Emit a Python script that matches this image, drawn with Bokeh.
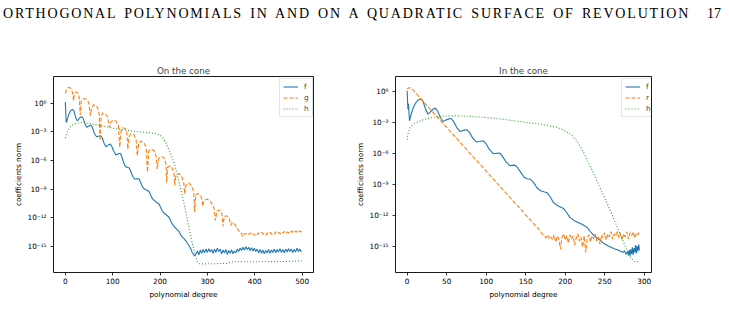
import numpy as np
from bokeh.plotting import figure
from bokeh.layouts import row, column
from bokeh.models import Range1d, FixedTicker, CustomJSTickFormatter, Div
from bokeh.embed import file_html
from bokeh.resources import INLINE

# ---------------- "On the cone": coefficient norms (log10) ----------------
f_on_deg = [0, 1, 2, 3, 5, 8, 11, 15, 18, 21, 24, 26.5, 29, 32, 35, 38, 42, 45.5, 49, 54,
            57, 61, 66, 70, 75, 78, 82, 86, 90, 95, 98, 102, 107, 111, 116, 119, 123, 127,
            131, 135, 138, 142, 146, 151, 156, 159, 163, 167, 172, 177, 180, 184, 188, 193,
            198, 201, 205, 209, 214, 219, 222, 226, 230, 235, 240, 243, 247, 251, 256, 261,
            265, 268, 271, 273] + list(range(276, 499, 3))
f_on_lg = [0.15, -1.0, -2.0, -1.9, -1.55, -1.1, -0.8, -0.62, -0.75, -1.3, -1.75, -1.8, -1.6,
           -1.45, -1.4, -1.6, -2.2, -2.5, -2.4, -2.27, -2.5, -3.1, -3.5, -3.45, -3.39, -3.6,
           -4.2, -4.55, -4.4, -4.27, -4.5, -5.0, -5.42, -5.32, -5.24, -5.55, -6.2, -6.64,
           -6.7, -6.78, -7.1, -7.65, -7.94, -7.92, -7.94, -8.3, -8.75, -9.0, -9.1, -9.27,
           -9.6, -10.0, -10.2, -10.4, -10.56, -10.9, -11.3, -11.54, -11.75, -11.96, -12.3,
           -12.7, -12.94, -13.2, -13.43, -13.75, -14.05, -14.23, -14.55, -14.93, -15.3,
           -15.65, -15.9, -16.0,
           -15.8, -15.5, -15.9, -15.4, -15.75, -15.35, -15.7, -15.3, -15.65, -15.25, -15.6,
           -15.35, -15.75, -15.3, -15.65, -15.2, -15.55, -15.3, -15.8, -15.4, -15.7, -15.35,
           -15.85, -15.45, -15.75, -15.4, -15.8, -15.5, -15.7, -15.3, -15.55, -15.2, -15.45,
           -15.1, -15.4, -15.05, -15.35, -15.1, -15.45, -15.15, -15.5, -15.2, -15.55, -15.3,
           -15.7, -15.35, -15.75, -15.4, -15.8, -15.45, -15.7, -15.35, -15.75, -15.4, -15.65,
           -15.3, -15.7, -15.35, -15.6, -15.25, -15.65, -15.35, -15.7, -15.3, -15.6, -15.25,
           -15.55, -15.3, -15.65, -15.35, -15.6, -15.2, -15.55, -15.3, -15.6]

g_on_deg = [0, 2, 4, 6, 8, 10, 12, 14, 16, 17.5, 19, 21, 24, 27, 29.5, 31.5, 33.5, 36, 41,
            46, 50, 53, 56, 60, 64, 68, 71.5, 73.5, 75.5, 79, 84, 89, 93, 96.5, 101, 107, 112,
            115, 118, 122, 127, 130, 132, 134.5, 139, 145, 149.5, 152, 155, 160, 166, 171,
            173.5, 176, 182, 188, 192, 194, 197, 203, 209, 212.5, 214, 216, 221, 226, 229.5,
            231, 233.5, 240, 246, 250, 252, 254.5, 261, 267, 271, 273, 275.5, 281, 286, 288.5,
            290, 292.5, 300, 308, 314, 317, 320, 326, 330.5, 333, 335.5, 341, 346, 350, 352.5,
            358, 364, 368, 372, 374, 376] + list(range(379, 500, 3))
g_on_lg = [1.05, 1.35, 1.55, 1.65, 1.68, 1.65, 1.55, 1.35, 0.95, 0.3, 0.9, 1.15, 1.2, 1.05,
           0.6, -1.2, 0.2, 0.45, 0.5, 0.4, 0.0, -1.3, -0.45, -0.15, -0.2, -0.45, -1.1, -3.9,
           -1.4, -1.0, -1.05, -1.4, -2.5, -1.95, -1.75, -1.85, -2.3, -4.6, -2.8, -2.55, -2.65,
           -3.1, -4.8, -3.45, -3.2, -3.3, -3.8, -5.5, -4.2, -3.95, -4.1, -4.7, -7.2, -5.0,
           -4.8, -5.0, -5.6, -6.9, -5.8, -5.55, -5.75, -6.4, -8.3, -6.7, -6.55, -6.8, -7.3,
           -8.6, -7.6, -7.35, -7.7, -8.3, -9.5, -8.6, -8.35, -8.7, -9.3, -11.4, -9.6, -9.45,
           -9.7, -10.1, -10.8, -10.2, -10.05, -10.4, -11.0, -12.3, -11.3, -11.2, -11.6, -12.9,
           -11.9, -11.8, -12.1, -12.8, -12.5, -12.7, -13.2, -13.5, -13.65, -13.95, -13.7,
           -13.75, -13.65, -13.8, -13.7, -13.6, -13.8, -13.7, -13.85, -13.65, -13.75, -13.6,
           -13.7, -13.55, -13.75, -13.65, -13.8, -13.6, -13.7, -13.55, -13.75, -13.6, -13.7,
           -13.5, -13.65, -13.55, -13.7, -13.5, -13.6, -13.45, -13.65, -13.5, -13.6, -13.4,
           -13.55, -13.35, -13.5, -13.4, -13.55, -13.35, -13.5, -13.4]

h_on_deg = [0, 3, 6, 10, 14, 19, 28, 38, 50, 75, 110, 145, 180, 195, 202, 207, 212, 218,
            224, 230, 237, 244, 250, 256, 262, 268, 273, 276, 280, 284, 300, 320, 340, 348,
            355, 370, 400, 430, 460, 480, 499]
h_on_lg = [-3.64, -3.1, -2.75, -2.5, -2.3, -2.16, -2.05, -2.0, -2.1, -2.34, -2.69, -2.92,
           -3.1, -3.2, -3.4, -3.7, -4.1, -4.8, -5.5, -6.3, -7.6, -9.1, -10.4, -11.8, -13.3,
           -14.7, -15.6, -16.2, -16.7, -16.85, -16.85, -16.83, -16.8, -16.7, -16.62, -16.64,
           -16.63, -16.62, -16.6, -16.58, -16.52]

# ---------------- "In the cone": coefficient norms (log10) ----------------
f_in_deg = [0, 0.5, 1, 1.7, 2.3, 3, 5, 8, 11, 14, 17.8, 20, 23, 26.3, 29, 32, 35.6, 38.5, 42,
            45.4, 49, 52, 55.9, 59, 63, 67, 71, 75.8, 79, 83, 88, 92, 96.1, 100, 104, 109, 113,
            117.4, 121, 125, 130, 133, 136.5, 140, 144, 148, 152, 156, 160, 164, 169, 173, 177,
            181, 185, 190, 194, 198, 202, 206, 211, 215, 219, 223, 228, 232, 236, 240, 244,
            249, 254, 258, 262, 266, 270, 273, 275, 277, 279, 280, 281, 282, 283, 284, 285,
            286, 287, 288, 289, 290, 291, 292, 293, 294]
f_in_lg = [0.1, -0.8, -1.68, -1.15, -1.9, -2.81, -2.2, -1.5, -1.05, -0.8, -0.71, -0.9, -1.6,
           -2.17, -2.0, -1.75, -1.58, -1.85, -2.5, -2.88, -2.75, -2.65, -2.59, -2.9, -3.5,
           -3.85, -3.75, -3.69, -3.95, -4.5, -4.88, -4.82, -4.75, -5.05, -5.6, -6.0, -5.98,
           -5.95, -6.3, -6.8, -7.18, -7.15, -7.12, -7.4, -7.85, -8.3, -8.45, -8.5, -8.8, -9.3,
           -9.62, -9.72, -9.8, -10.2, -10.75, -11.05, -11.2, -11.35, -11.75, -12.2, -12.5,
           -12.65, -12.8, -12.95, -13.2, -13.6, -13.95, -14.2, -14.4, -14.75, -14.95, -15.1,
           -15.25, -15.35, -15.5, -15.6, -15.45, -15.8, -15.5, -15.9, -15.35, -15.95, -15.3,
           -15.75, -15.1, -15.85, -15.2, -15.6, -14.9, -15.7, -15.0, -15.5, -14.85, -15.4,
           -14.9, -15.3]

r_in_deg = [0, 1, 2, 3.5, 5, 7, 10, 14, 20, 30, 40, 50, 60, 70, 80, 90, 100, 110, 120, 130,
            140, 150, 160, 166, 170, 172] + list(range(174, 295, 2))
r_in_lg = [0.28, 0.34, 0.38, 0.4, 0.36, 0.22, -0.02, -0.38, -0.9, -1.76, -2.6, -3.45, -4.3,
           -5.15, -6.0, -6.85, -7.7, -8.55, -9.4, -10.25, -11.1, -11.95, -12.8, -13.3, -13.7,
           -13.9,
           -14.0, -14.2, -13.9, -14.3, -14.1, -14.4, -13.9, -14.6, -14.0, -14.3, -15.3, -14.1,
           -13.8, -14.4, -14.0, -14.7, -13.9, -14.3, -14.0, -14.9, -14.2, -13.8, -14.5, -14.1,
           -15.1, -14.0, -15.6, -14.2, -13.9, -14.6, -14.0, -14.3, -13.8, -14.5, -14.1, -14.8,
           -13.9, -14.2, -13.7, -14.4, -13.8, -14.1, -13.6, -14.3, -13.8, -14.0, -13.6, -14.2,
           -13.7, -14.4, -13.8, -14.1, -13.6, -14.3, -13.7, -14.0, -13.6, -14.2, -13.7, -13.9,
           -13.6]

h_in_deg = [0, 1, 2, 4, 7, 10, 15, 20, 28, 37, 46, 54, 65, 84, 105, 125, 145, 169, 180, 190,
            200, 208, 214, 219, 224, 229, 234, 239, 244, 249, 254, 259, 264, 268, 272, 276,
            280, 283, 286, 289, 292, 294]
h_in_lg = [-4.66, -4.1, -3.8, -3.46, -3.2, -3.05, -2.87, -2.72, -2.55, -2.42, -2.36, -2.33,
           -2.34, -2.4, -2.53, -2.7, -2.92, -3.14, -3.3, -3.46, -3.8, -4.2, -4.7, -5.3, -6.0,
           -6.8, -7.6, -8.45, -9.3, -10.15, -11.0, -11.9, -12.8, -13.55, -14.3, -15.0,
           -15.65, -16.1, -16.4, -16.55, -16.5, -16.42]

y_ticks = [1e-15, 1e-12, 1e-9, 1e-6, 1e-3, 1e0]

BLUE, ORANGE, GREEN = "#1f77b4", "#ff7f0e", "#2ca02c"
FONT = "DejaVu Sans"

sup_formatter = CustomJSTickFormatter(code="""
const e = Math.round(Math.log10(tick));
const sup = {'-': '\u207b', '0': '\u2070', '1': '\u00b9', '2': '\u00b2', '3': '\u00b3',
             '4': '\u2074', '5': '\u2075', '6': '\u2076', '7': '\u2077', '8': '\u2078',
             '9': '\u2079'};
return '10' + String(e).split('').map(c => sup[c]).join('');
""")


def panel(title, width, border_right, x_range, y_lg_range, x_ticks, series):
    p = figure(width=width, height=281, title=title,
               x_range=Range1d(*x_range),
               y_range=Range1d(10 ** y_lg_range[0], 10 ** y_lg_range[1]),
               y_axis_type="log", output_backend="svg", toolbar_location=None,
               min_border_left=53, min_border_right=border_right,
               min_border_top=26, min_border_bottom=59)
    p.background_fill_color = "white"
    p.border_fill_color = "white"
    p.outline_line_color = "black"
    p.outline_line_width = 0.9
    p.grid.visible = False

    p.title.text_font = FONT
    p.title.text_font_size = "8.7px"
    p.title.text_font_style = "normal"
    p.title.align = "center"
    p.title.standoff = 2

    for ax in (p.xaxis[0], p.yaxis[0]):
        ax.axis_line_color = None
        ax.major_tick_line_color = "black"
        ax.major_tick_line_width = 0.8
        ax.major_tick_out = 3
        ax.major_tick_in = 0
        ax.minor_tick_line_color = None
        ax.major_label_text_font = FONT
        ax.major_label_text_font_size = "7.3px"
        ax.major_label_text_color = "black"
        ax.axis_label_text_font = FONT
        ax.axis_label_text_font_size = "7.3px"
        ax.axis_label_text_font_style = "normal"
        ax.axis_label_text_color = "black"

    p.xaxis.ticker = FixedTicker(ticks=x_ticks)
    p.xaxis.major_label_standoff = 2
    p.xaxis.axis_label = "polynomial degree"
    p.xaxis.axis_label_standoff = 3

    p.yaxis.ticker = FixedTicker(ticks=y_ticks, minor_ticks=[])
    p.yaxis.formatter = sup_formatter
    p.yaxis.major_label_standoff = 4
    p.yaxis.axis_label = "coefficients norm"
    p.yaxis.axis_label_standoff = 2

    for deg, lg, color, dash, label in series:
        p.line(deg, 10 ** np.asarray(lg, dtype=float), line_color=color, line_width=1.1,
               line_dash=dash, legend_label=label)

    lg_box = p.legend[0]
    lg_box.location = (226, 155)
    lg_box.padding = 3
    lg_box.spacing = 2
    lg_box.glyph_width = 15
    lg_box.glyph_height = 7
    lg_box.label_height = 7
    lg_box.label_width = 5
    lg_box.label_standoff = 6
    lg_box.label_text_font = FONT
    lg_box.label_text_font_size = "7.3px"
    lg_box.border_line_color = "#cccccc"
    lg_box.border_line_width = 1
    lg_box.background_fill_alpha = 0.8
    return p


p_on = panel("On the cone", 342, 29, (-24.9, 523.9), (-17.76, 2.83),
             [0, 100, 200, 300, 400, 500],
             [(f_on_deg, f_on_lg, BLUE, "solid", "f"),
              (g_on_deg, g_on_lg, ORANGE, "4 2", "g"),
              (h_on_deg, h_on_lg, GREEN, "1 2", "h")])

p_in = panel("In the cone", 387, 78, (-14.7, 309.2), (-17.56, 1.49),
             [0, 50, 100, 150, 200, 250, 300],
             [(f_in_deg, f_in_lg, BLUE, "solid", "f"),
              (r_in_deg, r_in_lg, ORANGE, "4 2", "r"),
              (h_in_deg, h_in_lg, GREEN, "1 2", "h")])

header = Div(
    text=(
        "<div style=\"position:relative;width:729px;height:50px;"
        "font-family:'Liberation Serif',serif;font-size:14px;color:#000;\">"
        "<span style=\"position:absolute;left:3px;top:4px;letter-spacing:1.8px;"
        "word-spacing:2px;white-space:nowrap;\">ORTHOGONAL POLYNOMIALS IN AND ON A "
        "QUADRATIC SURFACE OF REVOLUTION</span>"
        "<span style=\"position:absolute;left:707px;top:4px;\">17</span></div>"
    ),
    width=729, height=50, margin=(0, 0, 0, 0))

layout = column(header, row(p_on, p_in, margin=(0, 0, 0, 0)), margin=(0, 0, 0, 0))

with open("out.html", "w", encoding="utf-8") as fh:
    fh.write(file_html(layout, INLINE, title="Coefficient decay"))
